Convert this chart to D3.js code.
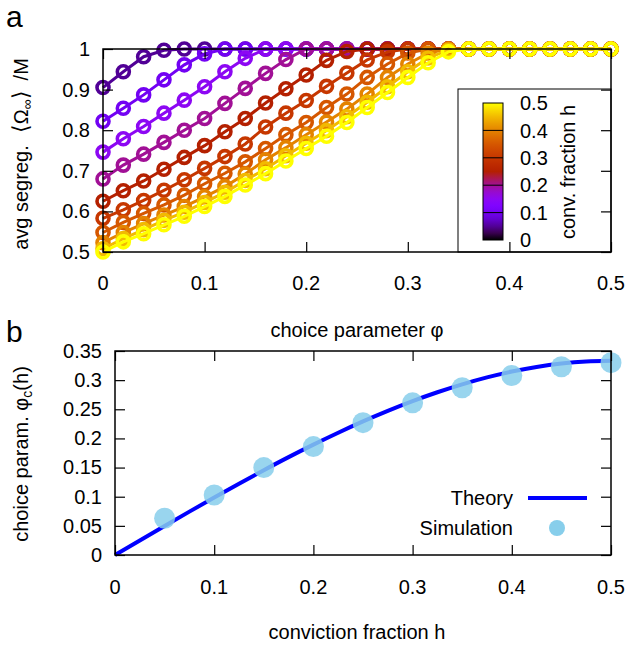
<!DOCTYPE html>
<html>
<head>
<meta charset="utf-8">
<script src="https://cdn.jsdelivr.net/npm/d3@7"></script>
<style>
  body { margin: 0; background: #fff; }
  svg { display: block; font-family: "Liberation Sans", Arial, sans-serif; }
</style>
</head>
<body>
<div id="chart"></div>
<script>
// panel a: choice parameter phi grid and one series per conviction fraction h
const phiGrid = [0, 0.02, 0.04, 0.06, 0.08, 0.1, 0.12, 0.14, 0.16, 0.18, 0.2, 0.22, 0.24,
                 0.26, 0.28, 0.3, 0.32, 0.34, 0.36, 0.38, 0.4, 0.42, 0.44, 0.46, 0.48, 0.5];
const hValues = [0.05, 0.1, 0.15, 0.2, 0.25, 0.3, 0.35, 0.4, 0.45, 0.5];
const seg05 = [0.905, 0.944, 0.981, 0.997, 1, 1, 1, 1, 1, 1, 1, 1, 1, 1, 1, 1, 1, 1, 1, 1, 1, 1, 1, 1, 1, 1];
const seg10 = [0.822, 0.854, 0.887, 0.924, 0.961, 0.988, 1, 1, 1, 1, 1, 1, 1, 1, 1, 1, 1, 1, 1, 1, 1, 1, 1, 1, 1, 1];
const seg15 = [0.746, 0.779, 0.809, 0.842, 0.874, 0.907, 0.944, 0.977, 1, 1, 1, 1, 1, 1, 1, 1, 1, 1, 1, 1, 1, 1, 1, 1, 1, 1];
const seg20 = [0.68, 0.714, 0.741, 0.77, 0.8, 0.829, 0.866, 0.903, 0.94, 0.974, 1, 1, 1, 1, 1, 1, 1, 1, 1, 1, 1, 1, 1, 1, 1, 1];
const seg25 = [0.625, 0.651, 0.675, 0.704, 0.733, 0.762, 0.796, 0.829, 0.867, 0.902, 0.936, 0.972, 0.994, 1, 1, 1, 1, 1, 1, 1, 1, 1, 1, 1, 1, 1];
const seg30 = [0.583, 0.604, 0.627, 0.652, 0.678, 0.706, 0.735, 0.766, 0.808, 0.842, 0.873, 0.908, 0.941, 0.973, 0.993, 1, 1, 1, 1, 1, 1, 1, 1, 1, 1, 1];
const seg35 = [0.548, 0.573, 0.595, 0.616, 0.64, 0.668, 0.694, 0.722, 0.755, 0.789, 0.819, 0.856, 0.889, 0.93, 0.963, 0.99, 1, 1, 1, 1, 1, 1, 1, 1, 1, 1];
const seg40 = [0.523, 0.548, 0.57, 0.591, 0.612, 0.636, 0.661, 0.692, 0.727, 0.757, 0.789, 0.82, 0.852, 0.889, 0.93, 0.963, 0.99, 1, 1, 1, 1, 1, 1, 1, 1, 1];
const seg45 = [0.508, 0.533, 0.555, 0.578, 0.598, 0.622, 0.647, 0.676, 0.705, 0.737, 0.768, 0.799, 0.833, 0.869, 0.907, 0.944, 0.978, 0.997, 1, 1, 1, 1, 1, 1, 1, 1];
const seg50 = [0.5, 0.525, 0.545, 0.567, 0.588, 0.612, 0.637, 0.665, 0.693, 0.724, 0.755, 0.785, 0.819, 0.856, 0.893, 0.93, 0.966, 0.993, 1, 1, 1, 1, 1, 1, 1, 1];
const segSeries = [seg05, seg10, seg15, seg20, seg25, seg30, seg35, seg40, seg45, seg50];

const xTicksA = [0, 0.1, 0.2, 0.3, 0.4, 0.5];
const yTicksA = [0.5, 0.6, 0.7, 0.8, 0.9, 1];
const cbTicks = [0, 0.1, 0.2, 0.3, 0.4, 0.5];

// panel b: critical choice parameter
const simH = [0.05, 0.1, 0.15, 0.2, 0.25, 0.3, 0.35, 0.4, 0.45, 0.5];
const simPhi = [0.063, 0.103, 0.15, 0.186, 0.227, 0.261, 0.287, 0.308, 0.323, 0.330];
const theoryH = [0, 0.025, 0.05, 0.075, 0.1, 0.125, 0.15, 0.175, 0.2, 0.225, 0.25,
                 0.275, 0.3, 0.325, 0.35, 0.375, 0.4, 0.425, 0.45, 0.475, 0.5];
const theoryPhi = [0, 0.025, 0.0498, 0.0744, 0.0987, 0.1224, 0.1455, 0.1679, 0.1893, 0.2098, 0.2292,
                   0.2473, 0.264, 0.2792, 0.2928, 0.3047, 0.3147, 0.3227, 0.3285, 0.3321, 0.3333];
const xTicksB = [0, 0.1, 0.2, 0.3, 0.4, 0.5];
const yTicksB = [0, 0.05, 0.1, 0.15, 0.2, 0.25, 0.3, 0.35];

const W = 629, H = 650;
const fs = 20;

// gnuplot default palette (rgbformulae 7,5,15)
function palette(t) {
  const r = Math.sqrt(t), g = t * t * t, b = Math.max(0, Math.sin(2 * Math.PI * t));
  return d3.rgb(r * 255, g * 255, b * 255).formatHex();
}
const hColor = h => palette(h / 0.5);

const svg = d3.select("#chart").append("svg").attr("width", W).attr("height", H);

// ---------- panel a ----------
const xA = d3.scaleLinear().domain([0, 0.5]).range([103, 611]);
const yA = d3.scaleLinear().domain([0.5, 1]).range([252, 49]);

// colour bar box (sits under the curves, none reach it)
const cbScale = d3.scaleLinear().domain([0, 0.5]).range([240, 103]);
svg.append("rect").attr("x", 458).attr("y", 89).attr("width", 153).attr("height", 163)
  .attr("fill", "#fff").attr("stroke", "#000").attr("stroke-width", 1);

const grad = svg.append("defs").append("linearGradient").attr("id", "cbgrad")
  .attr("x1", 0).attr("y1", 1).attr("x2", 0).attr("y2", 0);
d3.range(0, 1.0001, 0.05).forEach(t => {
  grad.append("stop").attr("offset", t).attr("stop-color", palette(t));
});
svg.append("rect").attr("x", 483).attr("y", cbScale(0.5)).attr("width", 20)
  .attr("height", cbScale(0) - cbScale(0.5)).attr("fill", "url(#cbgrad)")
  .attr("stroke", "#000").attr("stroke-width", 1);
svg.append("g").selectAll("line").data(cbTicks.slice(1, -1)).join("line")
  .attr("x1", 483).attr("x2", 503).attr("y1", d => cbScale(d)).attr("y2", d => cbScale(d))
  .attr("stroke", "#000").attr("stroke-width", 1);
svg.append("g").selectAll("text").data(cbTicks).join("text")
  .attr("x", 520).attr("y", d => cbScale(d)).attr("dy", "0.36em")
  .attr("font-size", fs).text(d => d3.format("")(d));
svg.append("text").attr("transform", "translate(575,172) rotate(-90)")
  .attr("text-anchor", "middle").attr("font-size", fs).text("conv. fraction h");

// curves
const lineA = d3.line().x((d, i) => xA(phiGrid[i])).y(d => yA(d));
segSeries.forEach((s, k) => {
  const c = hColor(hValues[k]);
  const g = svg.append("g");
  g.append("path").datum(s).attr("d", lineA).attr("fill", "none")
    .attr("stroke", c).attr("stroke-width", 3);
  g.selectAll("circle").data(s).join("circle")
    .attr("cx", (d, i) => xA(phiGrid[i])).attr("cy", d => yA(d)).attr("r", 6)
    .attr("fill", "none").attr("stroke", c).attr("stroke-width", 3.6);
});

// axes with inward ticks on all four sides
function frame(x, y, xt, yt, yFmt) {
  const [x0, x1] = x.range(), [y0, y1] = y.range();
  const bottom = svg.append("g").attr("transform", `translate(0,${y0})`)
    .call(d3.axisBottom(x).tickValues(xt).tickSize(-10).tickPadding(0).tickFormat(""));
  const top = svg.append("g").attr("transform", `translate(0,${y1})`)
    .call(d3.axisTop(x).tickValues(xt).tickSize(-10).tickFormat(""));
  const left = svg.append("g").attr("transform", `translate(${x0},0)`)
    .call(d3.axisLeft(y).tickValues(yt).tickSize(-10).tickPadding(13).tickFormat(yFmt));
  const right = svg.append("g").attr("transform", `translate(${x1},0)`)
    .call(d3.axisRight(y).tickValues(yt).tickSize(-10).tickFormat(""));
  [bottom, top, left, right].forEach(a => {
    a.select(".domain").remove();
    a.selectAll("line").attr("stroke", "#000").attr("stroke-width", 1.2);
    a.selectAll("text").attr("font-size", fs).attr("fill", "#000")
      .attr("font-family", "Liberation Sans, Arial, sans-serif");
  });
  svg.append("rect").attr("x", x0).attr("y", y1).attr("width", x1 - x0).attr("height", y0 - y1)
    .attr("fill", "none").attr("stroke", "#000").attr("stroke-width", 1.5);
  return bottom;
}
frame(xA, yA, xTicksA, yTicksA, d3.format(""));
svg.append("g").selectAll("text").data(xTicksA).join("text")
  .attr("x", d => xA(d)).attr("y", 290).attr("text-anchor", "middle")
  .attr("font-size", fs).text(d => d3.format("")(d));

svg.append("text").attr("x", 357).attr("y", 337).attr("text-anchor", "middle")
  .attr("font-size", fs).text("choice parameter φ");
const ylabA = svg.append("text").attr("transform", "translate(28,154) rotate(-90)")
  .attr("text-anchor", "middle").attr("font-size", fs);
ylabA.append("tspan").text("avg segreg.");
ylabA.append("tspan").attr("dx", 12).attr("font-size", 22).text("\u27E8");
ylabA.append("tspan").text("\u03A9");
ylabA.append("tspan").attr("font-size", 14).attr("dy", 4).text("\u221E");
ylabA.append("tspan").attr("dy", -4).attr("font-size", 22).text("\u27E9");
ylabA.append("tspan").attr("dx", 10).text("/M");

svg.append("text").attr("x", 6).attr("y", 27).attr("font-size", 30).text("a");
svg.append("text").attr("x", 6).attr("y", 342).attr("font-size", 30).text("b");

// ---------- panel b ----------
const xB = d3.scaleLinear().domain([0, 0.5]).range([115, 611]);
const yB = d3.scaleLinear().domain([0, 0.35]).range([555, 351]);

svg.append("path").datum(theoryH.map((h, i) => [h, theoryPhi[i]]))
  .attr("d", d3.line().x(d => xB(d[0])).y(d => yB(d[1])).curve(d3.curveMonotoneX))
  .attr("fill", "none").attr("stroke", "#0000ff").attr("stroke-width", 4);
svg.append("g").selectAll("circle").data(simH).join("circle")
  .attr("cx", d => xB(d)).attr("cy", (d, i) => yB(simPhi[i])).attr("r", 10.5)
  .attr("fill", "#87ceeb").attr("fill-opacity", 0.85);

frame(xB, yB, xTicksB, yTicksB, d3.format(""));
svg.append("g").selectAll("text").data(xTicksB).join("text")
  .attr("x", d => xB(d)).attr("y", 594).attr("text-anchor", "middle")
  .attr("font-size", fs).text(d => d3.format("")(d));

svg.append("text").attr("x", 357).attr("y", 639).attr("text-anchor", "middle")
  .attr("font-size", fs).text("conviction fraction h");
const ylabB = svg.append("text").attr("transform", "translate(28,454) rotate(-90)")
  .attr("text-anchor", "middle").attr("font-size", fs);
ylabB.append("tspan").text("choice param. \u03C6");
ylabB.append("tspan").attr("font-size", 14).attr("dy", 4).text("c");
ylabB.append("tspan").attr("dy", -4).text("(h)");

// legend
const legend = svg.append("g");
legend.append("text").attr("x", 513).attr("y", 498).attr("dy", "0.36em")
  .attr("text-anchor", "end").attr("font-size", fs).text("Theory");
legend.append("line").attr("x1", 528).attr("x2", 587).attr("y1", 498).attr("y2", 498)
  .attr("stroke", "#0000ff").attr("stroke-width", 4);
legend.append("text").attr("x", 513).attr("y", 528).attr("dy", "0.36em")
  .attr("text-anchor", "end").attr("font-size", fs).text("Simulation");
legend.append("circle").attr("cx", 557).attr("cy", 528).attr("r", 8).attr("fill", "#87ceeb");
</script>
</body>
</html>
